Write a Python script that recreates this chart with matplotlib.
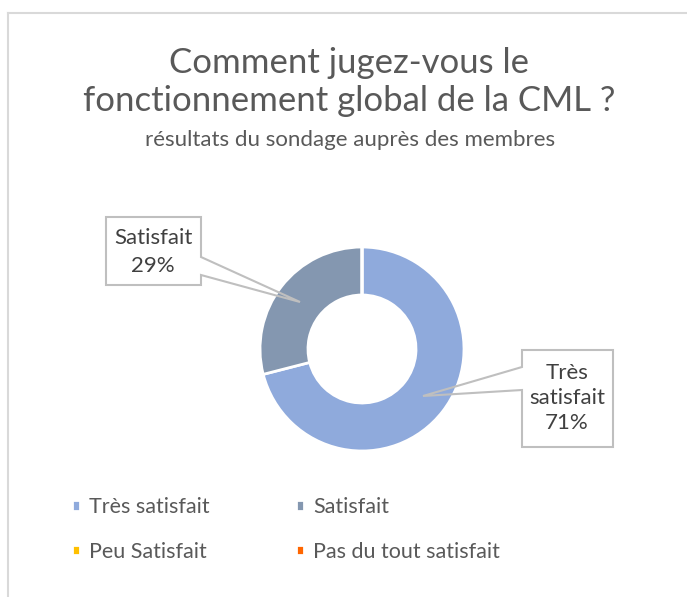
import matplotlib.pyplot as plt
from matplotlib.patches import Polygon
from matplotlib.lines import Line2D

W, H = 687, 597

categories = ['Très satisfait', 'Satisfait', 'Peu Satisfait', 'Pas du tout satisfait']
shares = [71, 29, 0, 0]
colors = ['#8FAADC', '#8497B0', '#FFC000', '#FF6600']

title = 'Comment jugez-vous le\nfonctionnement global de la CML ?'
subtitle = 'résultats du sondage auprès des membres'

plt.rcParams['font.family'] = ['Lato', 'DejaVu Sans']

fig = plt.figure(figsize=(W / 100, H / 100), dpi=100)
ax = fig.add_axes([0, 0, 1, 1])


def Y(y):
    # pixel rows from the top -> data y
    return H - y


wedges, _ = ax.pie(shares, colors=colors, startangle=90, counterclock=False,
                   radius=102, center=(362, Y(349)),
                   wedgeprops=dict(width=48, edgecolor='white', linewidth=2))
ax.set_xlim(0, W)
ax.set_ylim(0, H)
ax.set_aspect('equal')
ax.axis('off')

# chart area border (only top and left are visible)
ax.add_line(Line2D([8, W], [Y(13), Y(13)], color='#D9D9D9', lw=1.5))
ax.add_line(Line2D([8, 8], [Y(13), 0], color='#D9D9D9', lw=1.5))

ax.text(349, Y(82), title, ha='center', va='center', fontsize=25,
        color='#595959', linespacing=1.25)
ax.text(350, Y(140), subtitle, ha='center', va='center', fontsize=16,
        color='#595959')

# data callouts
box_sat = [(106, 217), (201, 217), (201, 257), (300, 302), (201, 275),
           (201, 285), (106, 285)]
box_tres = [(522, 350), (613, 350), (613, 447), (522, 447), (522, 390),
            (423, 396), (522, 367)]
for pts in (box_sat, box_tres):
    ax.add_patch(Polygon([(x, Y(y)) for x, y in pts], closed=True,
                         facecolor='none', edgecolor='#BFBFBF', lw=1.5))

ax.text(153, Y(252), f'{categories[1]}\n{shares[1]}%', ha='center',
        va='center', fontsize=16, color='#404040', linespacing=1.45)
ax.text(567, Y(398), 'Très\nsatisfait\n' + f'{shares[0]}%', ha='center',
        va='center', fontsize=16, color='#404040', linespacing=1.33)

# legend filled row by row
order = [0, 2, 1, 3]
leg = ax.legend([wedges[i] for i in order], [categories[i] for i in order],
                ncol=2, loc='upper left',
                bbox_to_anchor=(53 / W, 1 - 478 / H), frameon=False,
                fontsize=15.5, labelcolor='#595959', handlelength=0.37,
                handleheight=0.37, handletextpad=0.42, columnspacing=4.0,
                labelspacing=1.14)

fig.savefig('out.png', dpi=100)
